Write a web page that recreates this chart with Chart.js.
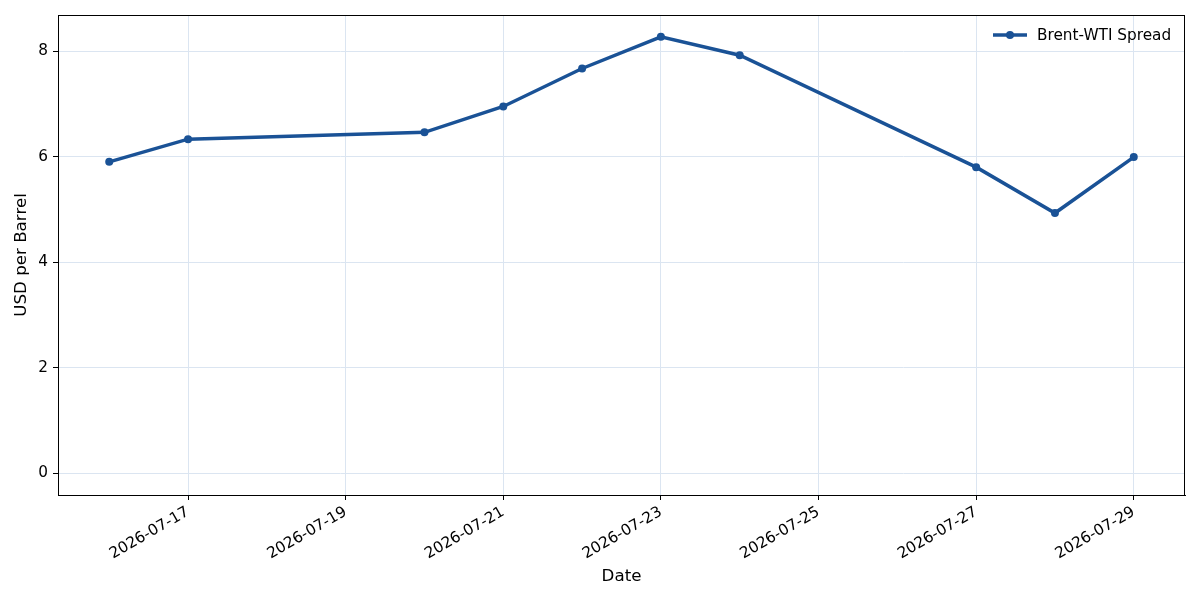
<!DOCTYPE html>
<html>
<head>
<meta charset="utf-8">
<script src="https://cdn.jsdelivr.net/npm/chart.js@4.4.1/dist/chart.umd.min.js"></script>
<style>
html,body{margin:0;padding:0;background:#fff;}
#wrap{width:1200px;height:600px;}
</style>
</head>
<body>
<div id="wrap"><canvas id="c" width="1200" height="600"></canvas></div>
<script>
// Data (day of July 2026)
const dates = ["2026-07-16","2026-07-17","2026-07-20","2026-07-21","2026-07-22","2026-07-23","2026-07-24","2026-07-27","2026-07-28","2026-07-29"];
const spread = [5.90, 6.33, 6.46, 6.95, 7.67, 8.27, 7.92, 5.80, 4.93, 5.99];
const xTickDays = [17, 19, 21, 23, 25, 27, 29];
const yTicks = [0, 2, 4, 6, 8];
const seriesLabel = "Brent-WTI Spread";

const dayOf = s => parseInt(s.slice(8, 10), 10);
const points = dates.map((d, i) => ({x: dayOf(d), y: spread[i]}));
const fmtDay = d => "2026-07-" + String(d).padStart(2, "0");

const lineColor = "#1a5296";
const gridColor = "#dbe5f1";
const font = "'DejaVu Sans', sans-serif";

const frame = {
  id: 'frame',
  afterDraw(chart) {
    const {ctx, chartArea: a} = chart;
    ctx.save();
    ctx.strokeStyle = '#000';
    ctx.lineWidth = 1;
    ctx.strokeRect(Math.round(a.left) + 0.5, Math.round(a.top) + 0.5, Math.round(a.right - a.left) - 1, Math.round(a.bottom - a.top));
    // legend
    const ds = chart.data.datasets[0];
    const y = a.top + 20;
    const x0 = a.right - 192;
    ctx.strokeStyle = ds.borderColor;
    ctx.lineWidth = 3.5;
    ctx.beginPath();
    ctx.moveTo(x0, y);
    ctx.lineTo(x0 + 34, y);
    ctx.stroke();
    ctx.fillStyle = ds.borderColor;
    ctx.beginPath();
    ctx.arc(x0 + 17, y, 4, 0, Math.PI * 2);
    ctx.fill();
    ctx.fillStyle = '#000';
    ctx.font = "15.3px " + font;
    ctx.textBaseline = 'middle';
    ctx.textAlign = 'left';
    ctx.fillText(ds.label, x0 + 44, y + 1);
    ctx.restore();
  }
};

new Chart(document.getElementById('c'), {
  type: 'line',
  data: {
    datasets: [{
      label: seriesLabel,
      data: points,
      borderColor: lineColor,
      backgroundColor: lineColor,
      borderWidth: 3.5,
      pointRadius: 4,
      pointHoverRadius: 4,
      pointBackgroundColor: lineColor,
      pointBorderWidth: 0,
      tension: 0
    }]
  },
  options: {
    responsive: false,
    animation: false,
    events: [],
    layout: {padding: {top: 15, right: 15, left: 0, bottom: 0}},
    plugins: {legend: {display: false}, tooltip: {enabled: false}},
    scales: {
      x: {
        type: 'linear',
        min: 15.35,
        max: 29.65,
        afterBuildTicks: s => { s.ticks = xTickDays.map(v => ({value: v})); },
        afterFit: s => { s.height = 105; },
        ticks: {
          callback: v => fmtDay(v),
          minRotation: 30, maxRotation: 30,
          autoSkip: false,
          padding: 3,
          color: '#000',
          font: {family: font, size: 15.3}
        },
        grid: {color: gridColor, lineWidth: 1, tickLength: 5, tickColor: '#000', drawTicks: true},
        border: {color: '#000', width: 1},
        title: {display: true, text: 'Date', color: '#000', font: {family: font, size: 16.7}, padding: {top: 0, bottom: 13}}
      },
      y: {
        min: -0.4135,
        max: 8.6835,
        afterBuildTicks: s => { s.ticks = yTicks.map(v => ({value: v})); },
        afterFit: s => { s.width = 58; },
        ticks: {
          padding: 5,
          color: '#000',
          font: {family: font, size: 15.3}
        },
        grid: {color: gridColor, lineWidth: 1, tickLength: 5, tickColor: '#000'},
        border: {color: '#000', width: 1},
        title: {display: true, text: 'USD per Barrel', color: '#000', font: {family: font, size: 16.7}, padding: {top: 12, bottom: 0}}
      }
    }
  },
  plugins: [frame]
});
</script>
</body>
</html>
